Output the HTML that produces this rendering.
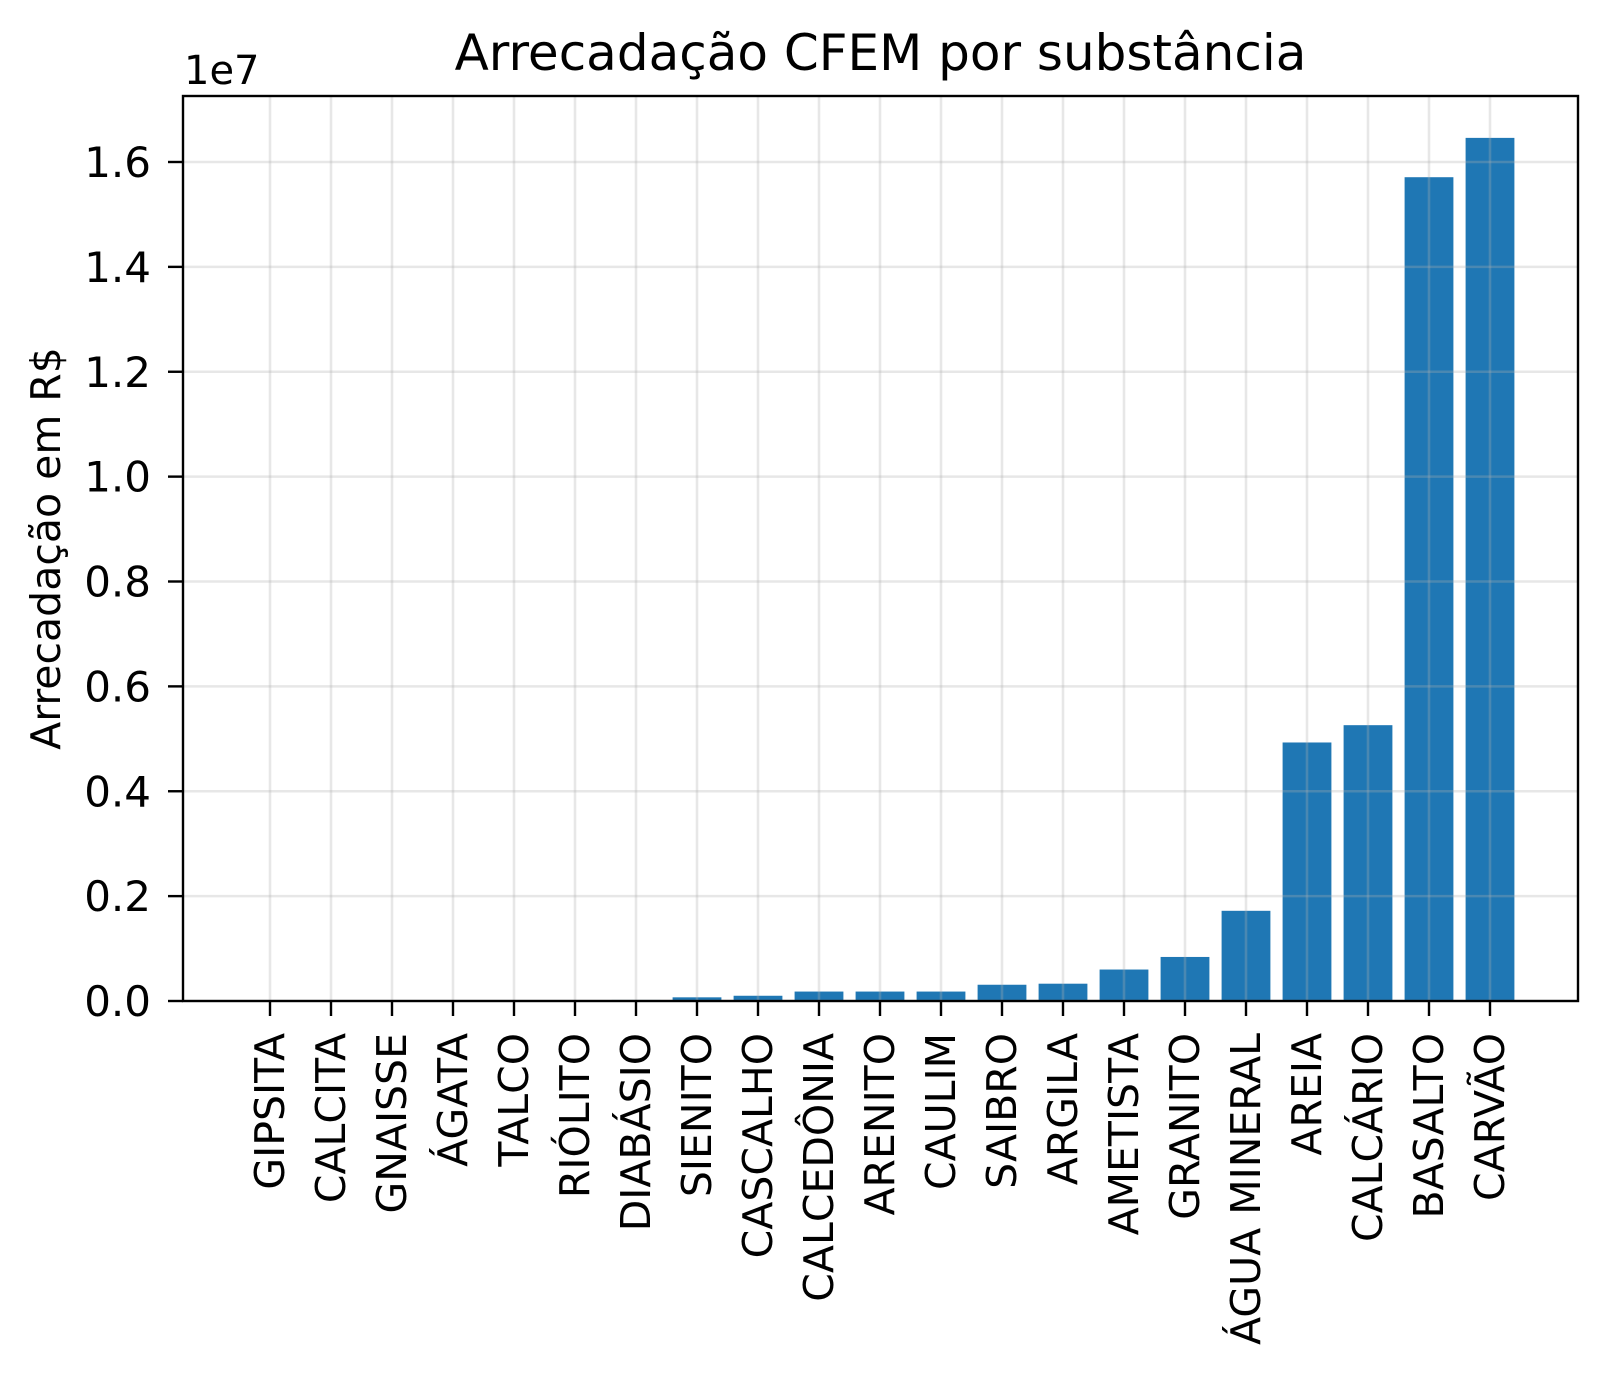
<!DOCTYPE html>
<html><head><meta charset="utf-8">
<style>
body{margin:0;background:#fff;}
svg{display:block;font-family:"DejaVu Sans","Liberation Sans",sans-serif;}
</style></head>
<body>
<svg id="chart" width="1607" height="1377"></svg>
<script>
const categories=["GIPSITA","CALCITA","GNAISSE","ÁGATA","TALCO","RIÓLITO","DIABÁSIO","SIENITO","CASCALHO","CALCEDÔNIA","ARENITO","CAULIM","SAIBRO","ARGILA","AMETISTA","GRANITO","ÁGUA MINERAL","AREIA","CALCÁRIO","BASALTO","CARVÃO"];
const values=[1000,2000,3000,4000,6000,9000,20000,70000,100000,180000,180000,180000,310000,330000,600000,840000,1720000,4930000,5260000,15710000,16460000];
const yTicks=[0,0.2,0.4,0.6,0.8,1.0,1.2,1.4,1.6];
const yTickLabels=["0.0","0.2","0.4","0.6","0.8","1.0","1.2","1.4","1.6"];

const NS="http://www.w3.org/2000/svg";
const svg=document.getElementById('chart');
const L=183,R=1578,T=96,B=1001;
const x0=270,step=(1490-270)/20;
const pxPer=(1001-162)/1.6; // per 1e7
function xs(i){return x0+i*step;}
function ys(v){return B-(v/1e7)*pxPer;}
function mk(tag,attrs){const e=document.createElementNS(NS,tag);for(const k in attrs)e.setAttribute(k,attrs[k]);svg.appendChild(e);return e;}

categories.forEach((c,i)=>{
  const bw=step*0.8;
  const r=mk('rect',{x:xs(i)-bw/2,y:ys(values[i]),width:bw,height:B-ys(values[i]),fill:'#1f77b4'});
  
  
});
categories.forEach((c,i)=>{
  const g=mk('line',{x1:xs(i),x2:xs(i),y1:T,y2:B,stroke:'#b0b0b0','stroke-opacity':0.3,'stroke-width':2.6});
  
  
});
yTicks.forEach((t,i)=>{
  const y=ys(t*1e7);
  const g=mk('line',{x1:L,x2:R,y1:y,y2:y,stroke:'#b0b0b0','stroke-opacity':0.3,'stroke-width':2.6});
  
  
  const tk=mk('line',{x1:L-15,x2:L,y1:y,y2:y,stroke:'#000','stroke-width':2.4});
  
  
  const tx=mk('text',{x:L-32,y:y+15,'text-anchor':'end','font-size':42});
  tx.textContent=yTickLabels[i];
  
  
});
categories.forEach((c,i)=>{
  const x=xs(i);
  const tk=mk('line',{x1:x,x2:x,y1:B,y2:B+15,stroke:'#000','stroke-width':2.4});
  
  
  const tx=mk('text',{x:0,y:0,'text-anchor':'end','font-size':41,transform:`translate(${x+14},${B+32}) rotate(-90)`});
  tx.textContent=c;
  
  
});
const fr=mk('rect',{x:L,y:T,width:R-L,height:B-T,fill:'none',stroke:'#000','stroke-width':2.4});


const off=mk('text',{x:184,y:84,'font-size':40});
off.textContent='1e7';


const title=mk('text',{x:(L+R)/2,y:70,'text-anchor':'middle','font-size':50});
title.textContent='Arrecadação CFEM por substância';


const yl=mk('text',{x:0,y:0,'text-anchor':'middle','font-size':41,transform:`translate(60,${(T+B)/2}) rotate(-90)`});
yl.textContent='Arrecadação em R$';


</script>
</body></html>
